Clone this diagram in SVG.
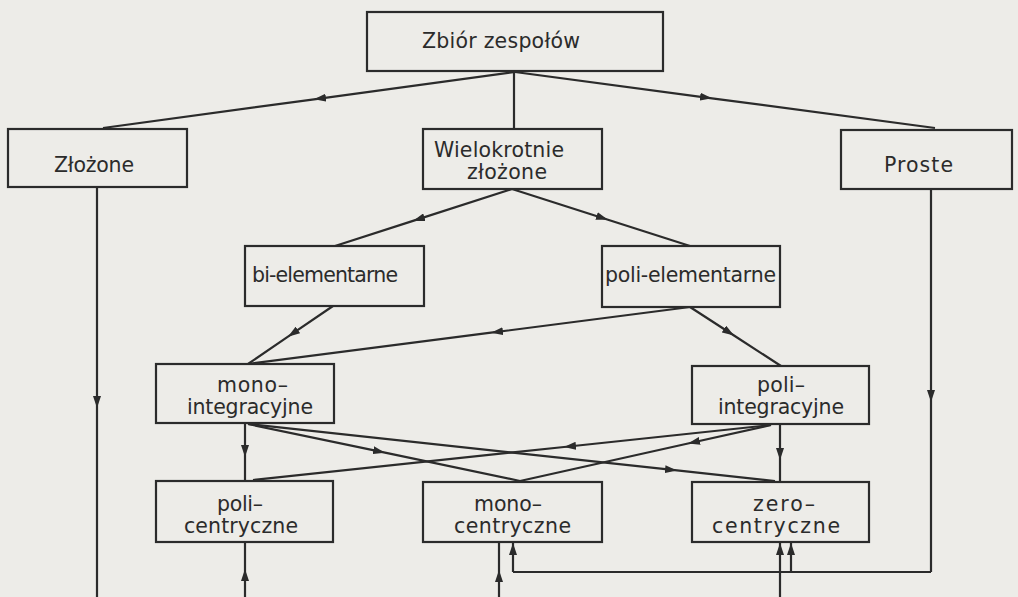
<svg xmlns="http://www.w3.org/2000/svg" width="1018" height="597" viewBox="0 0 1018 597">
<style>
.bg{fill:#edece8}
.box{fill:#edece8;stroke:#2b2b2b;stroke-width:2.2}
.lbl{font-family:"DejaVu Sans","Liberation Sans",sans-serif;font-size:20.5px;fill:#2b2b2b}
.conn path{fill:none;stroke:#2b2b2b;stroke-width:2.2}
.m{marker-mid:url(#ah)}
.e{marker-end:url(#ah)}
</style>
<defs>
<marker id="ah" viewBox="0 0 12 8" refX="12" refY="4" markerWidth="12" markerHeight="8" markerUnits="userSpaceOnUse" orient="auto"><path d="M0,0 L12,4 L0,8 z" fill="#2b2b2b"/></marker>
</defs>
<rect class="bg" x="0" y="0" width="1018" height="597"/>
<g id="connectors" class="conn">
<path class="m" d="M515,72 L314,99.3 L103,128"/>
<path class="m" d="M515,72 L712,98.3 L935,128"/>
<path d="M514,72 L514,129"/>
<path class="m" d="M512,189 L413,220.9 L335,246"/>
<path class="m" d="M512,189 L608,219.7 L690,246"/>
<path class="m" d="M333,306 L288,336.7 L248,364"/>
<path class="m" d="M690,307 L491,332.7 L248,364"/>
<path class="m" d="M690,307 L734,335.5 L781,366"/>
<path class="m" d="M97,187 L97,408 L97,597"/>
<path class="m" d="M931,190 L931,402 L931,572"/>
<path d="M931,572 L513,572"/>
<path class="e" d="M791,572 L791,543"/>
<path class="e" d="M513,572 L513,543"/>
<path class="m" d="M499,597 L499,570 L499,542"/>
<path class="m" d="M245,597 L245,569 L245,542"/>
<path class="e" d="M780,597 L780,543"/>
<path class="m" d="M245,423 L245,457 L245,481"/>
<path class="m" d="M780,424 L780,460 L780,482"/>
<path class="m" d="M248,424 L385,452.7 L520,481"/>
<path class="m" d="M248,424 L677,470.4 L775,481"/>
<path class="m" d="M771,425 L564,447 L253,480"/>
<path class="m" d="M771,425 L688,443.5 L520,481"/>
</g>
<g id="zbior"><rect class="box" x="367" y="12" width="296" height="59"/><text class="lbl" x="422" y="48" textLength="158" lengthAdjust="spacing">Zbiór zespołów</text></g>
<g id="zlozone"><rect class="box" x="8" y="129" width="179" height="58"/><text class="lbl" x="54" y="172" textLength="80" lengthAdjust="spacing">Złożone</text></g>
<g id="wielokrotnie"><rect class="box" x="423" y="129" width="179" height="60"/><text class="lbl" x="434" y="157" textLength="130" lengthAdjust="spacing">Wielokrotnie</text><text class="lbl" x="467" y="179" textLength="80" lengthAdjust="spacing">złożone</text></g>
<g id="proste"><rect class="box" x="841" y="130" width="171" height="59"/><text class="lbl" x="884" y="172" textLength="69" lengthAdjust="spacing">Proste</text></g>
<g id="bi-elementarne"><rect class="box" x="245" y="246" width="179" height="60"/><text class="lbl" x="252" y="282" textLength="146" lengthAdjust="spacing">bi-elementarne</text></g>
<g id="poli-elementarne"><rect class="box" x="602" y="246" width="178" height="61"/><text class="lbl" x="605" y="282" textLength="171" lengthAdjust="spacing">poli-elementarne</text></g>
<g id="mono-integracyjne"><rect class="box" x="156" y="364" width="178" height="59"/><text class="lbl" x="217" y="392" textLength="71" lengthAdjust="spacing">mono–</text><text class="lbl" x="187" y="414" textLength="126" lengthAdjust="spacing">integracyjne</text></g>
<g id="poli-integracyjne"><rect class="box" x="692" y="366" width="177" height="58"/><text class="lbl" x="757" y="392" textLength="48" lengthAdjust="spacing">poli–</text><text class="lbl" x="718" y="414" textLength="126" lengthAdjust="spacing">integracyjne</text></g>
<g id="poli-centryczne"><rect class="box" x="156" y="481" width="177" height="61"/><text class="lbl" x="217" y="511" textLength="46" lengthAdjust="spacing">poli–</text><text class="lbl" x="184" y="533" textLength="114" lengthAdjust="spacing">centryczne</text></g>
<g id="mono-centryczne"><rect class="box" x="423" y="482" width="179" height="60"/><text class="lbl" x="474" y="511" textLength="68" lengthAdjust="spacing">mono–</text><text class="lbl" x="454" y="533" textLength="117" lengthAdjust="spacing">centryczne</text></g>
<g id="zero-centryczne"><rect class="box" x="692" y="482" width="177" height="60"/><text class="lbl" x="753" y="511" textLength="62" lengthAdjust="spacing">zero–</text><text class="lbl" x="712" y="533" textLength="128" lengthAdjust="spacing">centryczne</text></g>
</svg>
